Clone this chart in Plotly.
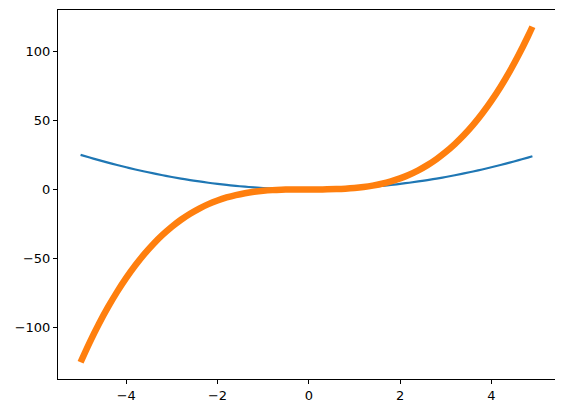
import plotly.graph_objects as go

x_vals = [-5.0, -4.8, -4.6, -4.4, -4.2, -4.0, -3.8, -3.6, -3.4, -3.2, -3.0, -2.8, -2.6, -2.4, -2.2,
          -2.0, -1.8, -1.6, -1.4, -1.2, -1.0, -0.8, -0.6, -0.4, -0.2, 0.0, 0.2, 0.4, 0.6, 0.8,
          1.0, 1.2, 1.4, 1.6, 1.8, 2.0, 2.2, 2.4, 2.6, 2.8, 3.0, 3.2, 3.4, 3.6, 3.8, 4.0, 4.2,
          4.4, 4.6, 4.8, 4.9]
square_vals = [25.0, 23.04, 21.16, 19.36, 17.64, 16.0, 14.44, 12.96, 11.56, 10.24, 9.0, 7.84, 6.76,
               5.76, 4.84, 4.0, 3.24, 2.56, 1.96, 1.44, 1.0, 0.64, 0.36, 0.16, 0.04, 0.0, 0.04, 0.16,
               0.36, 0.64, 1.0, 1.44, 1.96, 2.56, 3.24, 4.0, 4.84, 5.76, 6.76, 7.84, 9.0, 10.24,
               11.56, 12.96, 14.44, 16.0, 17.64, 19.36, 21.16, 23.04, 24.01]
cube_vals = [-125.0, -110.59, -97.34, -85.18, -74.09, -64.0, -54.87, -46.66, -39.30, -32.77, -27.0,
             -21.95, -17.58, -13.82, -10.65, -8.0, -5.83, -4.10, -2.74, -1.73, -1.0, -0.51, -0.22,
             -0.06, -0.01, 0.0, 0.01, 0.06, 0.22, 0.51, 1.0, 1.73, 2.74, 4.10, 5.83, 8.0, 10.65,
             13.82, 17.58, 21.95, 27.0, 32.77, 39.30, 46.66, 54.87, 64.0, 74.09, 85.18, 97.34,
             110.59, 117.65]
x_ticks = [-4, -2, 0, 2, 4]
y_ticks = [-100, -50, 0, 50, 100]

fig = go.Figure()
fig.add_trace(go.Scatter(x=x_vals, y=square_vals, mode="lines",
                         line=dict(color="#1f77b4", width=2.2, shape="spline")))
fig.add_trace(go.Scatter(x=x_vals, y=cube_vals, mode="lines",
                         line=dict(color="#ff7f0e", width=6.5, shape="spline")))

axis_common = dict(showgrid=False, zeroline=False, showline=True, linecolor="black",
                   linewidth=1, mirror=True, ticks="outside", ticklen=4, tickwidth=1,
                   tickcolor="black", tickfont=dict(family="DejaVu Sans", size=13, color="black"))

fig.update_xaxes(range=[-5.495, 5.395], tickvals=x_ticks, **axis_common)
fig.update_yaxes(range=[-137.13, 129.78], tickvals=y_ticks, **axis_common)

# page body adds an 8px offset, so the figure is sized and margined to compensate
fig.update_layout(width=555, height=405, showlegend=False,
                  margin=dict(l=50, r=8, t=2, b=34),
                  plot_bgcolor="white", paper_bgcolor="white")

fig.write_html("out.html")
